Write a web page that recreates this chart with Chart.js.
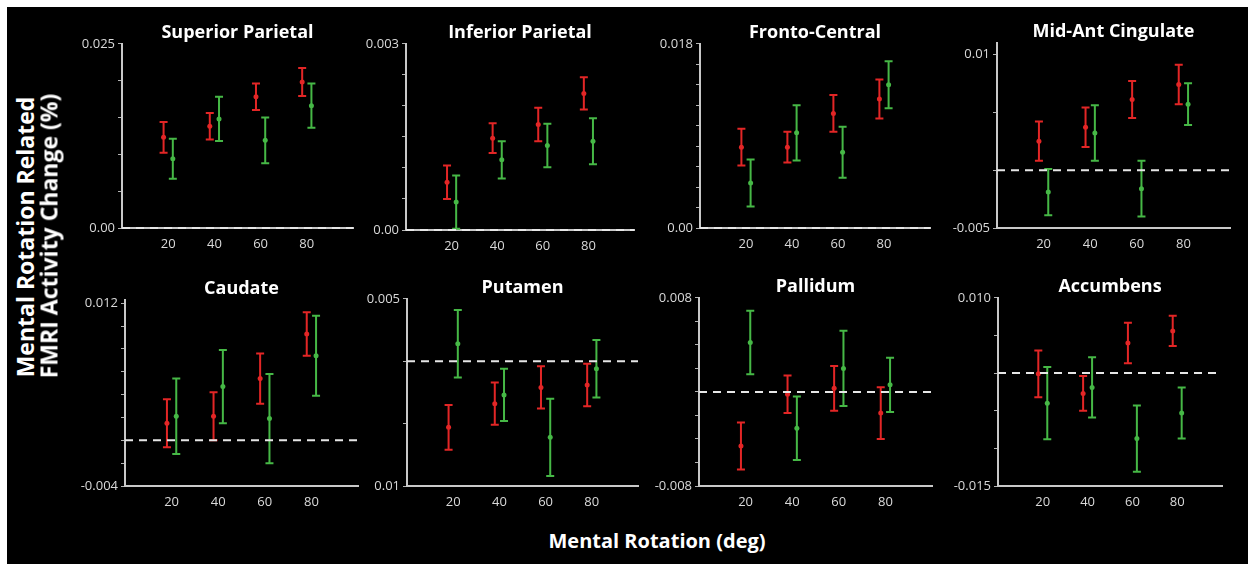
<!DOCTYPE html>
<html>
<head>
<meta charset="utf-8">
<script src="https://cdn.jsdelivr.net/npm/chart.js@4.4.0/dist/chart.umd.min.js"></script>
<style>
html, body { margin: 0; padding: 0; background: #fff; width: 1253px; height: 564px; overflow: hidden; }
#frame { position: absolute; left: 7px; top: 7px; width: 1241px; height: 557px; background: #000; }
canvas { position: absolute; }
.lbl { position: absolute; color: #fff; font-family: 'Open Sans', sans-serif; font-weight: bold; white-space: nowrap; line-height: 1; transform: translate(-50%, -50%); }
.vert { transform: translate(-50%, -50%) rotate(-90deg); }
</style>
</head>
<body>
<div id="frame"></div>
<script>
// categories
var angles = [20, 40, 60, 80];
var regions = ['Superior Parietal', 'Inferior Parietal', 'Fronto-Central', 'Mid-Ant Cingulate',
               'Caudate', 'Putamen', 'Pallidum', 'Accumbens'];

// series values (mean and half error bar)
var spRed = [0.0123, 0.0138, 0.0178, 0.0198];
var spRedErr = [0.0021, 0.0018, 0.0018, 0.0019];
var spGreen = [0.0094, 0.0148, 0.0119, 0.0166];
var spGreenErr = [0.0027, 0.0030, 0.0031, 0.0030];

var ipRed = [0.00077, 0.00148, 0.0017, 0.0022];
var ipRedErr = [0.00027, 0.00024, 0.00027, 0.00026];
var ipGreen = [0.00045, 0.00113, 0.00136, 0.00143];
var ipGreenErr = [0.00043, 0.0003, 0.00035, 0.00037];

var fcRed = [0.0079, 0.0079, 0.0112, 0.0126];
var fcRedErr = [0.0018, 0.0015, 0.0018, 0.0019];
var fcGreen = [0.0044, 0.0093, 0.0074, 0.014];
var fcGreenErr = [0.0023, 0.0027, 0.0025, 0.0023];

var macRed = [0.0025, 0.0037, 0.0061, 0.0074];
var macRedErr = [0.0017, 0.0017, 0.0016, 0.0017];
var macGreen = [-0.0019, 0.0032, -0.0016, 0.0057];
var macGreenErr = [0.002, 0.0024, 0.0024, 0.0018];

var cauRed = [0.0015, 0.0021, 0.0054, 0.0093];
var cauRedErr = [0.0021, 0.0021, 0.0022, 0.0019];
var cauGreen = [0.0021, 0.0047, 0.0019, 0.0074];
var cauGreenErr = [0.0033, 0.0032, 0.0039, 0.0035];

var putRed = [-0.0053, -0.0034, -0.0021, -0.0019];
var putRedErr = [0.0018, 0.0017, 0.0017, 0.0017];
var putGreen = [0.0014, -0.0027, -0.0061, -0.0006];
var putGreenErr = [0.0027, 0.0021, 0.0031, 0.0023];

var palRed = [-0.0046, -0.0002, 0.0003, -0.0018];
var palRedErr = [0.002, 0.0016, 0.0019, 0.0022];
var palGreen = [0.0042, -0.0031, 0.002, 0.0006];
var palGreenErr = [0.0027, 0.0027, 0.0032, 0.0023];

var accRed = [-0.0001, -0.0027, 0.004, 0.0056];
var accRedErr = [0.0031, 0.0023, 0.0027, 0.002];
var accGreen = [-0.004, -0.0019, -0.0087, -0.0053];
var accGreenErr = [0.0048, 0.004, 0.0044, 0.0034];

// y axes and tick labels
var yMins = [0, 0, 0, -0.005, -0.004, -0.01, -0.008, -0.015];
var yMaxs = [0.025, 0.003, 0.018, 0.011, 0.0123, 0.005, 0.008, 0.01];
var ySteps = [0.005, 0.0005, 0.002, 0.005, 0.002, 0.005, 0.002, 0.005];
var yTopTicks = [0.025, 0.003, 0.018, 0.01, 0.012, 0.005, 0.008, 0.01];
var topLabels = ['0.025', '0.003', '0.018', '0.01', '0.012', '0.005', '0.008', '0.010'];
var bottomLabels = ['0.00', '0.00', '0.00', '-0.005', '-0.004', '0.01', '-0.008', '-0.015'];

var redSeries = [spRed, ipRed, fcRed, macRed, cauRed, putRed, palRed, accRed];
var redErrs = [spRedErr, ipRedErr, fcRedErr, macRedErr, cauRedErr, putRedErr, palRedErr, accRedErr];
var greenSeries = [spGreen, ipGreen, fcGreen, macGreen, cauGreen, putGreen, palGreen, accGreen];
var greenErrs = [spGreenErr, ipGreenErr, fcGreenErr, macGreenErr, cauGreenErr, putGreenErr, palGreenErr, accGreenErr];

// layout: axis left x, top px, bottom px, plot width
var boxes = [
    [122, 43, 228, 231], [406, 43, 230, 228], [700, 43, 228, 230], [997, 42, 228, 233],
    [125, 299, 486, 233], [407, 298, 486, 231], [699, 297, 486, 233], [998, 297, 486, 224]
];
var RED = '#e32626', GREEN = '#46b846';
var YW = 60, PADTOP = 10, XH = 30, PADR = 8;

// Error bars drawn through the scales
var errorBars = {
    id: 'errorBars',
    beforeDatasetsDraw: function (chart) {
        var ctx = chart.ctx, xs = chart.scales.x, ys = chart.scales.y;
        chart.data.datasets.forEach(function (ds) {
            ctx.save();
            ctx.strokeStyle = ds.borderColor;
            ctx.lineWidth = 2;
            ds.data.forEach(function (p, i) {
                var e = ds.errors[i];
                var x = xs.getPixelForValue(p.x);
                var y1 = ys.getPixelForValue(p.y + e), y2 = ys.getPixelForValue(p.y - e);
                ctx.beginPath();
                ctx.moveTo(x, y1); ctx.lineTo(x, y2);
                ctx.moveTo(x - 4, y1); ctx.lineTo(x + 4, y1);
                ctx.moveTo(x - 4, y2); ctx.lineTo(x + 4, y2);
                ctx.stroke();
            });
            ctx.restore();
        });
    }
};

// dashed zero line
var zeroLine = {
    id: 'zeroLine',
    afterDraw: function (chart) {
        var ctx = chart.ctx, a = chart.chartArea;
        var y = chart.scales.y.getPixelForValue(0);
        ctx.save();
        ctx.strokeStyle = '#e6e6e6';
        ctx.lineWidth = 2;
        ctx.setLineDash([8, 6]);
        ctx.beginPath();
        ctx.moveTo(a.left, y);
        ctx.lineTo(a.right, y);
        ctx.stroke();
        ctx.restore();
    }
};

function makeLabel(text, x, y, size, vertical) {
    var d = document.createElement('div');
    d.className = 'lbl' + (vertical ? ' vert' : '');
    d.textContent = text;
    d.style.left = x + 'px';
    d.style.top = y + 'px';
    d.style.fontSize = size + 'px';
    document.body.appendChild(d);
}

regions.forEach(function (name, k) {
    var b = boxes[k];
    var cv = document.createElement('canvas');
    var w = YW + b[3] + PADR, h = PADTOP + (b[2] - b[1]) + XH;
    cv.width = w; cv.height = h;
    cv.style.left = (b[0] - YW) + 'px';
    cv.style.top = (b[1] - PADTOP) + 'px';
    cv.style.width = w + 'px'; cv.style.height = h + 'px';
    document.body.appendChild(cv);

    makeLabel(name, b[0] + b[3] / 2, b[1] - 12, 18, false);

    new Chart(cv, {
        type: 'scatter',
        data: {
            datasets: [
                {
                    data: angles.map(function (a, i) { return { x: a - 2, y: redSeries[k][i] }; }),
                    errors: redErrs[k],
                    borderColor: RED, backgroundColor: RED,
                    pointRadius: 2.5, pointBorderWidth: 0
                },
                {
                    data: angles.map(function (a, i) { return { x: a + 2, y: greenSeries[k][i] }; }),
                    errors: greenErrs[k],
                    borderColor: GREEN, backgroundColor: GREEN,
                    pointRadius: 2.5, pointBorderWidth: 0
                }
            ]
        },
        options: {
            responsive: false,
            animation: false,
            layout: { padding: { top: PADTOP, right: PADR, left: 0, bottom: 0 } },
            plugins: { legend: { display: false }, tooltip: { enabled: false } },
            scales: {
                x: {
                    type: 'linear', min: 0, max: 100,
                    afterFit: function (s) { s.height = XH; },
                    grid: { display: false, drawTicks: false },
                    border: { display: true, color: '#c8c8c8', width: 2 },
                    ticks: {
                        stepSize: 20, autoSkip: false, maxRotation: 0, padding: 8,
                        color: '#d9d9d9', font: { family: 'Open Sans', size: 13 },
                        callback: function (v) { return angles.indexOf(v) >= 0 ? String(v) : ''; }
                    }
                },
                y: {
                    min: yMins[k], max: yMaxs[k],
                    afterFit: function (s) { s.width = YW; },
                    grid: { display: true, drawOnChartArea: false, drawTicks: true, tickLength: 4, color: '#b5b5b5' },
                    border: { display: true, color: '#c8c8c8', width: 2 },
                    ticks: {
                        stepSize: ySteps[k], includeBounds: false, autoSkip: false, padding: 3,
                        color: '#d9d9d9', font: { family: 'Open Sans', size: 13 },
                        callback: function (v) {
                            if (Math.abs(v - yTopTicks[k]) < 1e-9) return topLabels[k];
                            if (Math.abs(v - yMins[k]) < 1e-9) return bottomLabels[k];
                            return '';
                        }
                    }
                }
            }
        },
        plugins: [errorBars, zeroLine]
    });
});

makeLabel('Mental Rotation Related', 25, 237, 23, true);
makeLabel('FMRI Activity Change (%)', 49, 236, 23, true);
makeLabel('Mental Rotation (deg)', 657, 541, 20, false);
</script>
</body>
</html>
